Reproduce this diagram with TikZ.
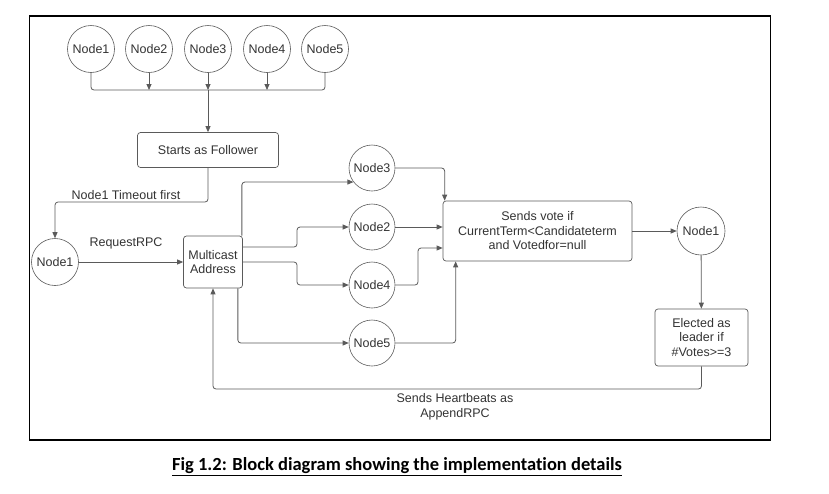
\documentclass[tikz,border=0pt]{standalone}
\usepackage{fontspec}
\setmainfont{Liberation Sans}
\newfontfamily\capfont[Ligatures=NoCommon]{Carlito}
\usepackage{tikz}
\usetikzlibrary{arrows.meta,positioning}
\definecolor{linegray}{HTML}{5A5A5A}
\definecolor{txtgray}{HTML}{333333}

\begin{document}
\begin{tikzpicture}[x=1pt, y=-1pt,
  >={Triangle[length=6pt,width=5pt]},
  every node/.style={font=\fontsize{12.5}{14.5}\selectfont, text=txtgray},
  peer/.style={circle, draw=linegray, line width=0.6pt, minimum size=47pt, inner sep=0pt},
  block/.style={draw=linegray, line width=0.7pt, rounded corners=3pt, align=center, inner sep=0pt},
  link/.style={draw=linegray, line width=0.8pt, rounded corners=3pt}]

  \useasboundingbox (0,0) rectangle (829,493);
  \draw[line width=1.3pt] (29.5,16) rectangle (770.5,440);

  % Top row of peers
  \foreach \i/\x in {1/91,2/149,3/208,4/267,5/325}
    \node[peer] (t\i) at (\x,49) {Node\i};

  \coordinate (bus) at (208,90);
  \draw[link] (t1.south) |- (bus) -| (t5.south);
  \foreach \i in {2,3,4}
    \draw[link,->] (t\i.south) -- (t\i.south |- bus);

  % Follower and candidate
  \node[block, minimum width=141pt, minimum height=35pt] (follower) at (208,150) {Starts as Follower};
  \draw[link,->] (bus) -- (follower);

  \node[peer] (cand) at (55,262) {Node1};
  \coordinate (tbend) at (55,202);
  \draw[link,->] (follower.south) |- (tbend) -- (cand.north);
  \node (timeout) at (126,195) {Node1 Timeout first};

  \node[block, minimum width=59pt, minimum height=52pt] (mcast) at (213,262) {Multicast\\Address};
  \draw[link,->] (cand) -- (mcast);
  \node (reqrpc) at (126,243) {RequestRPC};

  % Voters
  \foreach \n/\y in {3/168,2/227,4/285,5/343}
    \node[peer, minimum size=46pt] (m\n) at (372,\y) {Node\n};

  \draw[link,->] ([xshift=-1pt]mcast.north east) |- (m3.217);
  \draw[link,->] (mcast.east |- 0,247) -- (297,247) |- (m2);
  \draw[link,->] (mcast.east |- 0,262) -- (297,262) |- (m4);
  \draw[link,->] ([xshift=-5pt]mcast.south east) |- (m5);

  \node[block, minimum width=189pt, minimum height=60pt] (vote) at (537.5,231)
    {Sends vote if\\CurrentTerm<Candidateterm\\and Votedfor=null};

  \draw[link,->] (m3.east) -| ([xshift=2pt]vote.north west);
  \draw[link,->] (m2) -- (m2 -| vote.west);
  \draw[link,->] (m4.east) -- (418,285) |- (vote.west |- 0,248);
  \draw[link,->] (m5.east) -| ([xshift=13pt]vote.south west);

  % Leader
  \node[peer, minimum size=48pt] (leader) at (701,231) {Node1};
  \draw[link,->] (vote) -- (leader);

  \node[block, minimum width=93pt, minimum height=57pt] (elect) at (701.5,337.5)
    {Elected as\\leader if\\\#Votes>=3};
  \draw[link,->] (leader) -- (elect);

  \draw[link,->] (elect.south) -- (elect.south |- 0,389) -| (mcast.south);
  \node[align=center] (heartbeat) at (455,407) {Sends Heartbeats as\\AppendRPC};

  % Caption
  \node[text=black] (caption) at (397,467)
    {\capfont\fontsize{18.5}{21}\selectfont\bfseries\underline{Fig 1.2: Block diagram showing the implementation details}};
\end{tikzpicture}
\end{document}
